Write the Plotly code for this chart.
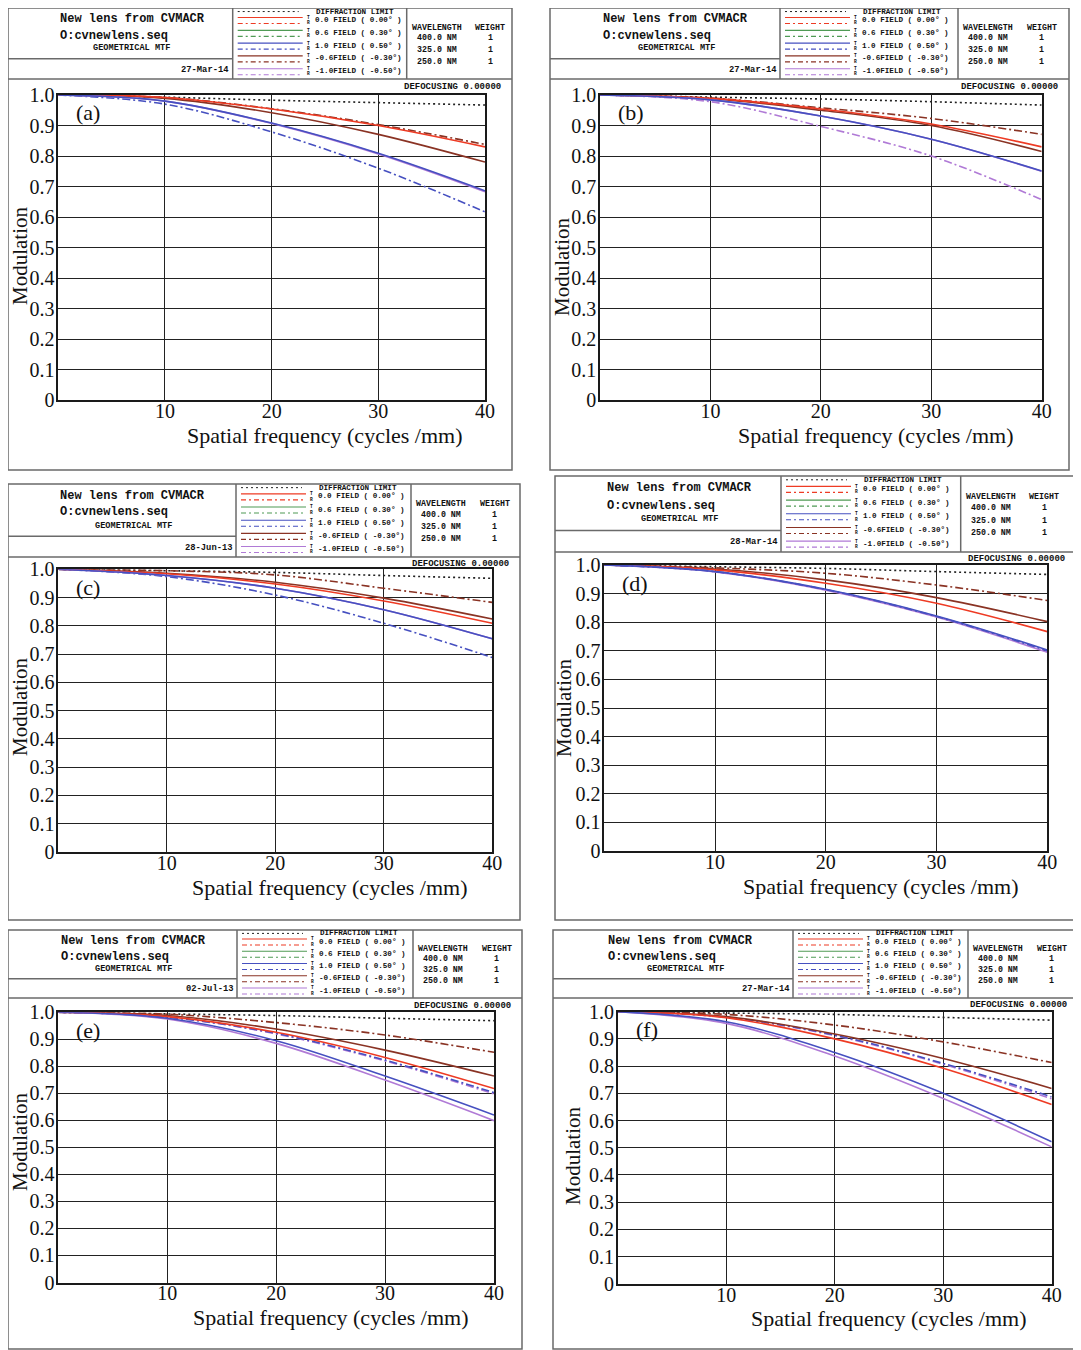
import plotly.graph_objects as go

W, H = 1081, 1350
PAGE_OFF = 8  # browser body margin

# ---------------- data ----------------
FREQ = [0, 10, 20, 30, 40]
Y_TICKS = [0, 0.1, 0.2, 0.3, 0.4, 0.5, 0.6, 0.7, 0.8, 0.9, 1.0]
Y_TICK_TEXT = ["0", "0.1", "0.2", "0.3", "0.4", "0.5", "0.6", "0.7", "0.8", "0.9", "1.0"]
X_TICKS = [10, 20, 30, 40]
X_TICK_TEXT = ["10", "20", "30", "40"]

FIELD_LABELS = ["0.0 FIELD ( 0.00\u00b0 )", "0.6 FIELD ( 0.30\u00b0 )", "1.0 FIELD ( 0.50\u00b0 )",
                "-0.6FIELD ( -0.30\u00b0)", "-1.0FIELD ( -0.50\u00b0)"]
WAVELENGTHS = ["400.0 NM", "325.0 NM", "250.0 NM"]
WEIGHTS = ["1", "1", "1"]
DATES = ["27-Mar-14", "27-Mar-14", "28-Jun-13", "28-Mar-14", "02-Jul-13", "27-Mar-14"]
PANEL_LABELS = ["(a)", "(b)", "(c)", "(d)", "(e)", "(f)"]

A_DIFF = [1.0, 0.993, 0.983, 0.975, 0.967]
A_RED_T = [1.0, 0.992, 0.954, 0.900, 0.830]
A_BROWN_T = [1.0, 0.989, 0.942, 0.871, 0.780]
A_BROWN_R = [1.0, 0.992, 0.955, 0.903, 0.838]
A_PURPLE_T = [1.0, 0.980, 0.907, 0.807, 0.683]
A_BLUE_T = [1.0, 0.980, 0.908, 0.809, 0.686]
A_BLUE_R = [1.0, 0.970, 0.879, 0.760, 0.617]

B_DIFF = [1.0, 0.993, 0.987, 0.978, 0.967]
B_RED_T = [1.0, 0.989, 0.954, 0.905, 0.830]
B_BROWN_T = [1.0, 0.988, 0.950, 0.900, 0.815]
B_BROWN_R = [1.0, 0.990, 0.958, 0.923, 0.871]
B_PURPLE_T = [1.0, 0.984, 0.931, 0.855, 0.750]
B_BLUE_T = [1.0, 0.984, 0.931, 0.855, 0.751]
B_PURPLE_R = [1.0, 0.978, 0.897, 0.800, 0.657]

C_DIFF = [1.0, 0.995, 0.989, 0.978, 0.968]
C_RED_T = [1.0, 0.984, 0.948, 0.888, 0.809]
C_BROWN_T = [1.0, 0.986, 0.954, 0.898, 0.824]
C_BROWN_R = [1.0, 0.995, 0.980, 0.933, 0.883]
C_PURPLE_T = [1.0, 0.978, 0.933, 0.857, 0.754]
C_BLUE_T = [1.0, 0.978, 0.933, 0.857, 0.754]
C_BLUE_R = [1.0, 0.974, 0.909, 0.809, 0.688]

D_DIFF = [1.0, 0.994, 0.988, 0.977, 0.967]
D_RED_T = [1.0, 0.983, 0.936, 0.866, 0.767]
D_BROWN_T = [1.0, 0.986, 0.948, 0.886, 0.802]
D_BROWN_R = [1.0, 0.990, 0.971, 0.930, 0.876]
D_PURPLE_T = [1.0, 0.976, 0.912, 0.818, 0.695]
D_BLUE_T = [1.0, 0.977, 0.915, 0.822, 0.703]
D_BLUE_R = [1.0, 0.977, 0.914, 0.820, 0.700]

E_DIFF = [1.0, 0.994, 0.988, 0.978, 0.969]
E_RED_T = [1.0, 0.984, 0.926, 0.833, 0.718]
E_BROWN_T = [1.0, 0.988, 0.938, 0.860, 0.764]
E_BROWN_R = [1.0, 0.993, 0.962, 0.916, 0.852]
E_PURPLE_T = [1.0, 0.975, 0.885, 0.749, 0.599]
E_BLUE_T = [1.0, 0.978, 0.895, 0.764, 0.620]
E_PURPLE_R = [1.0, 0.982, 0.920, 0.820, 0.698]
E_BLUE_R = [1.0, 0.982, 0.922, 0.823, 0.703]

F_DIFF = [1.0, 0.995, 0.990, 0.979, 0.969]
F_RED_T = [1.0, 0.978, 0.900, 0.792, 0.659]
F_BROWN_T = [1.0, 0.982, 0.918, 0.828, 0.718]
F_BROWN_R = [1.0, 0.990, 0.951, 0.889, 0.813]
F_PURPLE_T = [1.0, 0.957, 0.837, 0.681, 0.503]
F_BLUE_T = [1.0, 0.963, 0.850, 0.700, 0.522]
F_PURPLE_R = [1.0, 0.979, 0.912, 0.807, 0.680]
F_BLUE_R = [1.0, 0.980, 0.914, 0.810, 0.687]

# ---------------- styles ----------------
RED = "#ee3b24"
GREEN = "#4f9a55"
BLUE = "#4650c0"
BROWN = "#8a3324"
PURPLE = "#b07ad6"
DIFFC = "#222222"
FIELD_COLORS = [RED, GREEN, BLUE, BROWN, PURPLE]
DOT = "2px,3px"
DASHDOT = "8px,3px,2px,3px"
SERIF = "Liberation Serif, Times New Roman, serif"
MONO = "Liberation Mono, Courier New, monospace"
GRID = "#222222"
BOXC = "#6a6a6a"

PANELS = [
    dict(box=(8, 8, 512, 470), hb=79, tbr=232.7, lgr=406.7, plot=(58.3, 95, 485, 400), mod=(20, 256),
         curves=[(A_DIFF, DIFFC, DOT), (A_BROWN_R, BROWN, DASHDOT), (A_BLUE_R, BLUE, DASHDOT),
                 (A_BROWN_T, BROWN, "solid"), (A_RED_T, RED, "solid"), (A_PURPLE_T, PURPLE, "solid"),
                 (A_BLUE_T, BLUE, "solid")]),
    dict(box=(550, 8, 1069, 470), hb=79, tbr=780, lgr=958, plot=(600, 95, 1041.7, 400), mod=(562, 267),
         curves=[(B_DIFF, DIFFC, DOT), (B_BROWN_R, BROWN, DASHDOT), (B_PURPLE_R, PURPLE, DASHDOT),
                 (B_BROWN_T, BROWN, "solid"), (B_RED_T, RED, "solid"), (B_PURPLE_T, PURPLE, "solid"),
                 (B_BLUE_T, BLUE, "solid")]),
    dict(box=(8, 484, 520, 920), hb=557, tbr=236, lgr=411, plot=(58.3, 569.3, 492.3, 852), mod=(20, 707),
         curves=[(C_DIFF, DIFFC, DOT), (C_BROWN_R, BROWN, DASHDOT), (C_BLUE_R, BLUE, DASHDOT),
                 (C_BROWN_T, BROWN, "solid"), (C_RED_T, RED, "solid"), (C_PURPLE_T, PURPLE, "solid"),
                 (C_BLUE_T, BLUE, "solid")]),
    dict(box=(555, 476, 1076, 920), hb=552, tbr=781, lgr=960.7, plot=(604.3, 565, 1047.3, 851), mod=(564, 708),
         curves=[(D_DIFF, DIFFC, DOT), (D_BROWN_R, BROWN, DASHDOT),
                 (D_BROWN_T, BROWN, "solid"), (D_RED_T, RED, "solid"), (D_PURPLE_T, PURPLE, "solid"),
                 (D_BLUE_T, BLUE, "solid"), (D_BLUE_R, BLUE, DASHDOT)]),
    dict(box=(8, 930, 522, 1349), hb=998, tbr=237, lgr=413, plot=(58.3, 1012.3, 494, 1282.5), mod=(20, 1142),
         curves=[(E_DIFF, DIFFC, DOT), (E_BROWN_R, BROWN, DASHDOT), (E_PURPLE_R, PURPLE, DASHDOT),
                 (E_BLUE_R, BLUE, DASHDOT), (E_BROWN_T, BROWN, "solid"), (E_RED_T, RED, "solid"),
                 (E_PURPLE_T, PURPLE, "solid"), (E_BLUE_T, BLUE, "solid")]),
    dict(box=(553, 930, 1078, 1349), hb=998, tbr=793, lgr=968, plot=(617.7, 1011.7, 1051.7, 1283.7), mod=(573, 1156),
         curves=[(F_DIFF, DIFFC, DOT), (F_BROWN_R, BROWN, DASHDOT), (F_PURPLE_R, PURPLE, DASHDOT),
                 (F_BLUE_R, BLUE, DASHDOT), (F_BROWN_T, BROWN, "solid"), (F_RED_T, RED, "solid"),
                 (F_PURPLE_T, PURPLE, "solid"), (F_BLUE_T, BLUE, "solid")]),
]


def X(px):
    return (px - PAGE_OFF) / W


def Y(py):
    return 1 - (py - PAGE_OFF) / H


fig = go.Figure()
shapes = []
annotations = []
layout_axes = {}


def hline(x0, x1, y, color, width=1.2, dash="solid"):
    shapes.append(dict(type="line", xref="paper", yref="paper", x0=X(x0), x1=X(x1), y0=Y(y), y1=Y(y),
                       line=dict(color=color, width=width, dash=dash)))


def vline(x, y0, y1, color, width=1.2):
    shapes.append(dict(type="line", xref="paper", yref="paper", x0=X(x), x1=X(x), y0=Y(y0), y1=Y(y1),
                       line=dict(color=color, width=width)))


def text(x, y, s, size, xanchor="center", font=MONO, bold=True, color="#111", angle=0):
    annotations.append(dict(xref="paper", yref="paper", x=X(x), y=Y(y), text=("<b>%s</b>" % s) if bold else s,
                            showarrow=False, xanchor=xanchor, yanchor="middle", textangle=angle,
                            font=dict(family=font, size=size, color=color), borderpad=0))


for i, p in enumerate(PANELS, start=1):
    sfx = "" if i == 1 else str(i)
    xa, ya = "x" + sfx, "y" + sfx
    x0, yt, x40, yb = p["plot"]
    l, t, r, b = p["box"]
    hb, tbr, lgr = p["hb"], p["tbr"], p["lgr"]
    h = hb - t

    for vals, color, dash in p["curves"]:
        fig.add_trace(go.Scatter(x=FREQ, y=vals, xaxis=xa, yaxis=ya, mode="lines", showlegend=False,
                                 hoverinfo="skip", cliponaxis=True,
                                 line=dict(color=color, width=1.6, dash=dash, shape="spline", smoothing=1.0)))

    axis_common = dict(showline=True, linecolor="#1a1a1a", linewidth=1.6, mirror=True, zeroline=False,
                       showgrid=True, gridcolor=GRID, gridwidth=1.3, ticks="", fixedrange=True,
                       automargin=False, tickfont=dict(family=SERIF, size=20, color="#111"))
    layout_axes["xaxis" + sfx] = dict(axis_common, domain=[X(x0), X(x40)], range=[0, 40], anchor=ya,
                                      tickmode="array", tickvals=X_TICKS, ticktext=X_TICK_TEXT,
                                      ticklabelstandoff=-8)
    layout_axes["yaxis" + sfx] = dict(axis_common, domain=[Y(yb), Y(yt)], range=[0, 1.0], anchor=xa,
                                      tickmode="array", tickvals=Y_TICKS, ticktext=Y_TICK_TEXT,
                                      ticklabelstandoff=-2)

    # outer frame and header structure
    shapes.append(dict(type="rect", xref="paper", yref="paper", x0=X(l), x1=X(r), y0=Y(b), y1=Y(t),
                       line=dict(color=BOXC, width=1.5), layer="below"))
    hline(l, r, hb, BOXC, 1.5)
    vline(tbr, t, hb, BOXC, 1.5)
    vline(lgr, t, hb, BOXC, 1.5)
    hline(l, tbr, t + 0.716 * h, BOXC, 1.5)

    # title block
    tl = l + 0.225 * (tbr - l)
    text(tl, t + 0.16 * h, "New lens from CVMACR", 12, "left")
    text(tl, t + 0.39 * h, "O:cvnewlens.seq", 12, "left")
    text((l + tbr) / 2 + 0.05 * (tbr - l), t + 0.57 * h, "GEOMETRICAL MTF", 8.6)
    text(tbr - 2.5, t + 0.87 * h, DATES[i - 1], 8.8, "right")

    # legend block
    hline(tbr + 5, tbr + 66, t + 0.05 * h, DIFFC, 1.0, "2px,3px")
    text(tbr + 122, t + 0.05 * h, "DIFFRACTION LIMIT", 7.6)
    for k, (lab, col) in enumerate(zip(FIELD_LABELS, FIELD_COLORS)):
        ry = t + (0.17 + 0.18 * k) * h
        hline(tbr + 5, tbr + 70, ry - 2.5, col, 1.1)
        hline(tbr + 5, tbr + 70, ry + 3.5, col, 1.1, "5px,3px,2px,3px")
        text(tbr + 75.5, ry - 2.6, "T", 4.5)
        text(tbr + 75.5, ry + 2.8, "R", 4.5)
        text(tbr + 81, ry, lab, 7.6, "left")

    # wavelength block
    text(lgr + 30, t + 0.27 * h, "WAVELENGTH", 8.3)
    text(lgr + 83.5, t + 0.27 * h, "WEIGHT", 8.3)
    for k, (wl, wt) in enumerate(zip(WAVELENGTHS, WEIGHTS)):
        ry = t + (0.414 + 0.167 * k) * h
        text(lgr + 30, ry, wl, 8.3)
        text(lgr + 83.5, ry, wt, 8.3)

    text(r - 10, (hb + yt) / 2 + 0.5, "DEFOCUSING 0.00000", 9, "right")

    # panel texts
    text(x0 + 17, yt + 18, PANEL_LABELS[i - 1], 22, "left", font=SERIF, bold=False)
    text(x0 + 25 * (x40 - x0) / 40, yb + 35, "Spatial frequency (cycles /mm)", 22, font=SERIF, bold=False)
    text(p["mod"][0], p["mod"][1], "Modulation", 21, font=SERIF, bold=False, angle=-90)

fig.update_layout(width=W, height=H, autosize=False,
                  margin=dict(l=0, r=0, t=0, b=0, pad=0, autoexpand=False),
                  paper_bgcolor="white", plot_bgcolor="white", showlegend=False,
                  shapes=shapes, annotations=annotations, **layout_axes)

fig.write_html("out.html")
